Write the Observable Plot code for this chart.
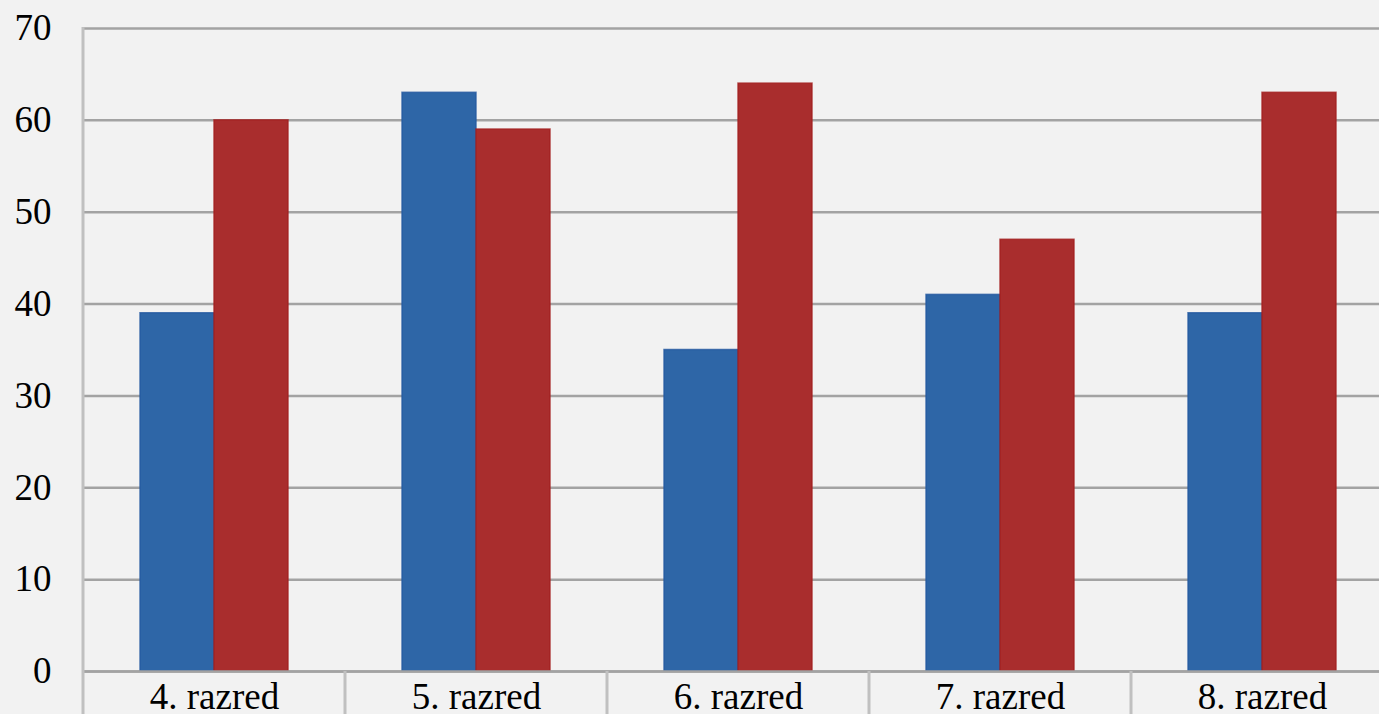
<!DOCTYPE html>
<html>
<head>
<meta charset="utf-8">
<script src="https://cdn.jsdelivr.net/npm/d3@7"></script>
<script src="https://cdn.jsdelivr.net/npm/@observablehq/plot@0.6"></script>
<style>
  html, body { margin: 0; padding: 0; background: #f2f2f2; overflow: hidden; width: 1379px; height: 714px; }
  #chart { width: 1379px; height: 714px; overflow: hidden; }
  #chart svg { display: block; max-width: none !important; width: 1393px !important; height: 714px !important; }
</style>
</head>
<body>
<div id="chart"></div>
<script>
const categories = ["4. razred", "5. razred", "6. razred", "7. razred", "8. razred"];
const seriesNames = ["Serija 1", "Serija 2"];
const blueValues = [39, 63, 35, 41, 39];
const redValues = [60, 59, 64, 47, 63];
const yTicks = [0, 10, 20, 30, 40, 50, 60, 70];
const seriesColors = ["#2e66a7", "#a92d2d"];
const seriesStrokes = ["#2459a0", "#a31f1f"];

const data = categories.flatMap((c, i) => [
  { razred: c, serija: seriesNames[0], v: blueValues[i] },
  { razred: c, serija: seriesNames[1], v: redValues[i] }
]);

const chart = Plot.plot({
  width: 1393,
  height: 714,
  marginLeft: 83,
  marginRight: 0,
  marginTop: 28,
  marginBottom: 43,
  facet: { marginTop: 0, marginRight: 0, marginBottom: 0, marginLeft: 0 },
  style: {
    background: "#f2f2f2",
    fontFamily: "'Liberation Serif', 'Times New Roman', serif",
    fontSize: "37px",
    color: "#000"
  },
  fx: { domain: categories, paddingInner: 0, paddingOuter: 0, label: null, axis: "bottom", tickSize: 0, tickPadding: 11 },
  x: { domain: seriesNames, paddingInner: 0, paddingOuter: 57 / 74, axis: null },
  y: { domain: [0, 70], ticks: yTicks, label: null, tickSize: 0, tickPadding: 32, tickFormat: d => String(d) },
  color: { domain: seriesNames, range: seriesColors },
  marks: [
    Plot.ruleY(yTicks, { stroke: "#a3a3a3", strokeWidth: 2.5 }),
    Plot.barY(data, {
      fx: "razred", x: "serija", y: "v", fill: "serija",
      stroke: d => seriesStrokes[seriesNames.indexOf(d.serija)],
      strokeWidth: 1.5, strokeOpacity: 0.8
    }),
    Plot.ruleY([0], { stroke: "#a3a3a3", strokeWidth: 2.5 })
  ]
});

document.getElementById("chart").appendChild(chart);

// category separator lines derived from the library's fx / y scales
const fx = chart.scale("fx");
const y = chart.scale("y");
const svg = d3.select(chart);
const g = svg.append("g").attr("stroke", "#c0c0c0").attr("stroke-width", 3);
categories.forEach((c, i) => {
  const x0 = fx.apply(c);
  g.append("line")
    .attr("x1", x0).attr("x2", x0)
    .attr("y1", i === 0 ? y.apply(70) - 1 : y.apply(0))
    .attr("y2", 714);
});
</script>
</body>
</html>
